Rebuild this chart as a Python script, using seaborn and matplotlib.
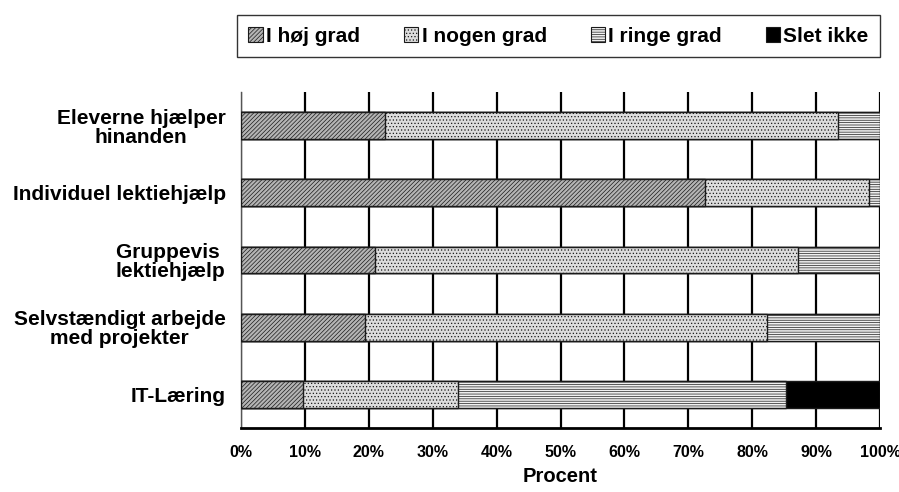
import matplotlib
matplotlib.use("Agg")
import matplotlib.pyplot as plt
import seaborn as sns
import numpy as np
import pandas as pd
from matplotlib.patches import Patch

categories = ["Eleverne hjælper\nhinanden", "Individuel lektiehjælp", "Gruppevis \nlektiehjælp",
              "Selvstændigt arbejde\nmed projekter", "IT-Læring"]
series_names = ["I høj grad", "I nogen grad", "I ringe grad", "Slet ikke"]
hoej = [22.5, 72.6, 21.0, 19.4, 9.7]
nogen = [71.0, 25.7, 66.1, 62.9, 24.2]
ringe = [6.5, 1.7, 12.9, 17.7, 51.4]
slet = [0.0, 0.0, 0.0, 0.0, 14.7]
xticklabels = ["0%", "10%", "20%", "30%", "40%", "50%", "60%", "70%", "80%", "90%", "100%"]

sns.set_theme(style="white")
plt.rcParams["font.family"] = ["Liberation Sans", "DejaVu Sans"]
plt.rcParams["font.weight"] = "bold"
plt.rcParams["text.color"] = "black"
plt.rcParams["xtick.color"] = "black"
plt.rcParams["ytick.color"] = "black"
plt.rcParams["axes.labelcolor"] = "black"
plt.rcParams["hatch.linewidth"] = 0.5

styles = {
    "I høj grad": dict(fc="#b4b4b4", hatch="////////"),
    "I nogen grad": dict(fc="#dcdcdc", hatch="....."),
    "I ringe grad": dict(fc="#f0f0f0", hatch="-------"),
    "Slet ikke": dict(fc="#000000", hatch=None),
}

fig = plt.figure(figsize=(8.99, 4.92), dpi=100)
ax = fig.add_axes([241/899, 1-428/492, (880-241)/899, (428-92)/492])

vals = [hoej, nogen, ringe, slet]
cum = np.cumsum(np.array(vals), axis=0)
# draw from last (largest cumulative) to first so segments overlap into stacks
for i in range(len(series_names)-1, -1, -1):
    df = pd.DataFrame({"cat": categories, "val": cum[i]})
    n_before = len(ax.patches)
    sns.barplot(data=df, x="val", y="cat", orient="h", color=styles[series_names[i]]["fc"],
                width=0.4, ax=ax, saturation=1, edgecolor="#1a1a1a", linewidth=1.0, zorder=3)
    for p in ax.patches[n_before:]:
        p.set_facecolor(styles[series_names[i]]["fc"])
        if styles[series_names[i]]["hatch"]:
            p.set_hatch(styles[series_names[i]]["hatch"])
        p.set_zorder(3 + (len(series_names) - i))

ax.set_xlim(0, 100)
ax.set_ylim(len(categories) - 0.5, -0.5)
ax.set_xticks(np.arange(0, 101, 10))
ax.set_xticklabels(xticklabels, fontsize=11.5, fontweight="bold")
ax.set_yticks(np.arange(len(categories)))
ax.set_yticklabels(categories, fontsize=15, fontweight="bold", ha="right",
                   multialignment="center", linespacing=1.0)
ax.set_yticks(np.arange(-0.5, len(categories), 1), minor=True)
ax.tick_params(axis="y", which="major", length=0, pad=11)
ax.tick_params(axis="y", which="minor", length=5, color="#555555", width=1, direction="out")
ax.tick_params(axis="x", which="major", length=4, color="black", width=1.2, direction="out", pad=8)
ax.set_xlabel("Procent", fontsize=14.5, fontweight="bold", labelpad=5)
ax.set_ylabel("")

ax.grid(True, axis="x", color="black", linewidth=1.6, zorder=0)
ax.set_axisbelow(True)
for s in ["top", "right"]:
    ax.spines[s].set_visible(False)
ax.spines["left"].set_color("#555555")
ax.spines["left"].set_linewidth(1.0)
ax.spines["bottom"].set_color("black")
ax.spines["bottom"].set_linewidth(2.0)

handles = []
for name in series_names:
    st = styles[name]
    handles.append(Patch(facecolor=st["fc"], edgecolor="#1a1a1a", hatch=st["hatch"], linewidth=0.8, label=name))
leg = fig.legend(handles=handles, loc="center", ncol=4, mode="expand",
                 bbox_to_anchor=(237/899, 1-58/492, 643/899, 44/492),
                 frameon=True, fancybox=False, edgecolor="black",
                 prop={"weight": "bold", "size": 15},
                 handlelength=0.7, handleheight=0.7, handletextpad=0.15,
                 borderpad=0.55, borderaxespad=0)
leg.get_frame().set_linewidth(1.0)

fig.savefig("out.png", dpi=100)
